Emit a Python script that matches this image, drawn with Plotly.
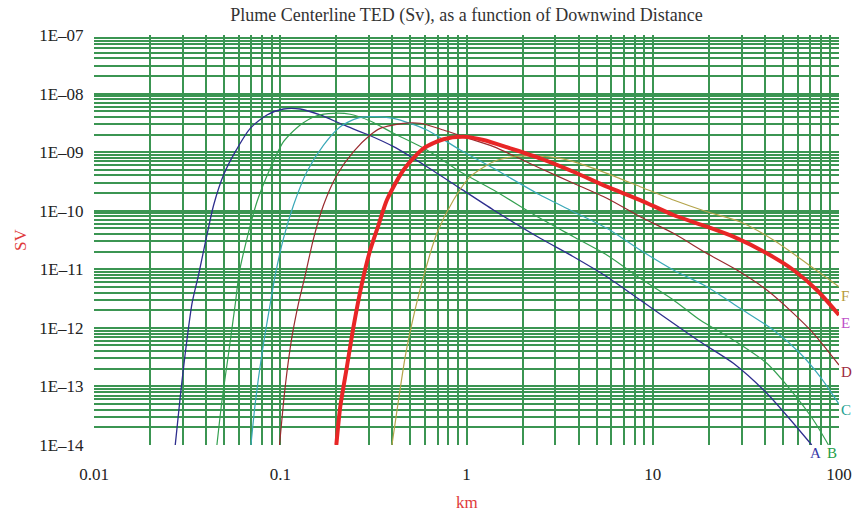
import plotly.graph_objects as go

# ---------------- data ----------------
A_x = [0.0273, 0.02905, 0.0309, 0.0336, 0.0364, 0.0404, 0.0439, 0.0496, 0.0574, 0.069, 0.0848, 0.1041,
       0.128, 0.164, 0.2187, 0.292, 0.4057, 0.613, 0.925, 1.396, 2.487, 3.752, 5.67, 8.56, 17.96, 27.1,
       40.96, 56.9, 71.4]
A_y = [1e-14, 6.67e-14, 3.68e-13, 2.62e-12, 7.98e-12, 3.85e-11, 1.25e-10, 4.07e-10, 1.02e-9, 2.55e-9,
       4.31e-9, 5.45e-9, 5.45e-9, 4.31e-9, 2.91e-9, 2.02e-9, 1.24e-9, 5.64e-10, 2.41e-10, 1.03e-10,
       3.38e-11, 1.64e-11, 7.47e-12, 2.99e-12, 5.80e-13, 2.48e-13, 7.63e-14, 2.35e-14, 1e-14]

B_x = [0.0457, 0.0487, 0.0528, 0.0574, 0.0602, 0.0663, 0.075, 0.0884, 0.1041, 0.128, 0.1574, 0.1932,
       0.2375, 0.3041, 0.4057, 0.613, 0.925, 1.396, 2.487, 3.752, 5.67, 8.56, 12.91, 17.96, 27.1, 40.96,
       56.9, 72.9, 87.8]
B_y = [1e-14, 5.86e-14, 3.68e-13, 2.62e-12, 8.64e-12, 3.38e-11, 1.42e-10, 5.30e-10, 1.51e-9, 2.91e-9,
       4.19e-9, 4.60e-9, 4.43e-9, 3.40e-9, 2.10e-9, 1.09e-9, 4.63e-10, 2.26e-10, 7.42e-11, 3.6e-11,
       1.75e-11, 7.0e-12, 3.0e-12, 1.36e-12, 6.20e-13, 2.48e-13, 7.63e-14, 2.67e-14, 1e-14]

C_x = [0.0696, 0.0734, 0.0798, 0.0884, 0.094, 0.1041, 0.1179, 0.139, 0.1708, 0.21, 0.258, 0.3041,
       0.4057, 0.613, 0.925, 1.396, 2.487, 3.752, 5.67, 8.56, 12.91, 19.52, 29.45, 44.45, 61.8, 79.1, 100]
C_y = [1e-14, 5.15e-14, 3.68e-13, 2.62e-12, 7.98e-12, 3.38e-11, 1.25e-10, 4.63e-10, 1.32e-9, 2.72e-9,
       3.78e-9, 4.03e-9, 3.78e-9, 2.39e-9, 1.09e-9, 5.30e-10, 1.85e-10, 9.62e-11, 5.01e-11, 2.13e-11,
       9.72e-12, 5.04e-12, 2.16e-12, 9.19e-13, 3.68e-13, 1.47e-13, 5.0e-14]

D_x = [0.0991, 0.1063, 0.1156, 0.1253, 0.1362, 0.151, 0.1708, 0.2015, 0.2474, 0.3041, 0.3442, 0.459,
       0.5644, 0.7524, 0.9636, 1.396, 2.11, 2.487, 3.752, 5.67, 8.56, 12.91, 19.52, 28.3, 40.96, 56.9,
       72.9, 100]
D_y = [1e-14, 9.89e-14, 7.06e-13, 2.62e-12, 7.98e-12, 3.38e-11, 1.25e-10, 4.07e-10, 1.02e-9, 1.96e-9,
       2.55e-9, 3.11e-9, 3.11e-9, 2.39e-9, 1.83e-9, 1.24e-9, 6.8e-10, 5.30e-10, 2.94e-10, 1.63e-10,
       7.90e-11, 4.11e-11, 1.87e-11, 9.72e-12, 4.43e-12, 1.77e-12, 8.07e-13, 2.32e-13]

E_x = [0.2, 0.21, 0.228, 0.2474, 0.2746, 0.3041, 0.337, 0.3738, 0.459, 0.5877, 0.7524, 0.9636, 1.234,
       1.716, 2.487, 3.752, 5.67, 8.56, 12.91, 19.52, 27.1, 40.96, 56.9, 76.0, 100]
E_y = [1e-14, 4.50e-14, 2.17e-13, 1.05e-12, 5.76e-12, 2.13e-11, 5.70e-11, 1.52e-10, 4.96e-10, 1.16e-9,
       1.66e-9, 1.83e-9, 1.61e-9, 1.16e-9, 7.85e-10, 4.63e-10, 2.57e-10, 1.52e-10, 8.45e-11, 5.33e-11,
       3.60e-11, 1.87e-11, 9.72e-12, 4.43e-12, 1.66e-12]

F_x = [0.3978, 0.4315, 0.4688, 0.5192, 0.5877, 0.6937, 0.8516, 1.047, 1.396, 1.788, 2.387, 3.184,
       3.752, 5.67, 8.56, 12.91, 19.52, 29.45, 44.45, 67.2, 100]
F_y = [1e-14, 5.86e-14, 3.22e-13, 1.55e-12, 7.47e-12, 4.11e-11, 1.52e-10, 3.81e-10, 6.87e-10, 8.36e-10,
       8.59e-10, 7.85e-10, 6.87e-10, 4.35e-10, 2.57e-10, 1.52e-10, 9.62e-11, 6.49e-11, 3.16e-11,
       1.26e-11, 5.04e-12]

X_TICKS = [0.01, 0.1, 1, 10, 100]
X_LABELS = ["0.01", "0.1", "1", "10", "100"]
Y_TICKS = [1e-14, 1e-13, 1e-12, 1e-11, 1e-10, 1e-9, 1e-8, 1e-7]
Y_LABELS = ["1E\u201314", "1E\u201313", "1E\u201312", "1E\u201311", "1E\u201310",
            "1E\u201309", "1E\u201308", "1E\u201307"]

TITLE = "Plume Centerline TED (Sv), as a function of Downwind Distance"

# ---------------- styling ----------------
FONT = "Liberation Serif"
GRID = "#3b9552"
COLORS = {"A": "#2e2e8e", "B": "#34a050", "C": "#3aa8b8", "D": "#9a2a2e", "E": "#e82626", "F": "#b4a44a"}
WIDTHS = {"A": 1.3, "B": 1.2, "C": 1.2, "D": 1.2, "E": 4.0, "F": 1.2}
LABEL_COLORS = {"A": "#3838a8", "B": "#24a048", "C": "#22a090", "D": "#a02c40", "E": "#c050c8", "F": "#b89a3a"}

# grid positions: every 1..9 x decade (no line on the 0.01 and 1E-14 edges)
x_grid = [m * 10.0 ** k for k in range(-2, 2) for m in range(1, 10)][1:] + [100]
y_grid = [m * 10.0 ** k for k in range(-14, -7) for m in range(1, 10)][1:] + [1e-7]

data = {"A": (A_x, A_y), "B": (B_x, B_y), "C": (C_x, C_y), "D": (D_x, D_y), "E": (E_x, E_y), "F": (F_x, F_y)}

fig = go.Figure()
for name in ["A", "B", "C", "D", "F", "E"]:
    xs, ys = data[name]
    fig.add_trace(go.Scatter(
        x=xs, y=ys, mode="lines", name=name, showlegend=False, hoverinfo="skip",
        line=dict(color=COLORS[name], width=WIDTHS[name], shape="spline", smoothing=0.7),
        xaxis="x", yaxis="y"))

# empty trace so the label-only overlay axes get drawn
fig.add_trace(go.Scatter(x=[], y=[], xaxis="x2", yaxis="y2", showlegend=False, hoverinfo="skip"))

fig.update_layout(
    width=852, height=513,
    margin=dict(l=94, r=13, t=35, b=68, pad=0, autoexpand=False),
    paper_bgcolor="white", plot_bgcolor="white",
    showlegend=False,
    title=dict(text=TITLE, x=0.5, xref="paper", xanchor="center", y=1 - 15 / 513, yanchor="middle",
               font=dict(family=FONT, size=18, color="#333")),
    xaxis=dict(type="log", range=[-2, 2], tickvals=x_grid, showticklabels=False, ticks="",
               showgrid=True, gridcolor=GRID, gridwidth=1.6, zeroline=False, showline=False,
               automargin=False),
    yaxis=dict(type="log", range=[-14, -7], tickvals=y_grid, showticklabels=False, ticks="",
               showgrid=True, gridcolor=GRID, gridwidth=1.6, zeroline=False, showline=False,
               automargin=False),
    xaxis2=dict(type="log", range=[-2, 2], overlaying="x", anchor="y2", side="bottom",
                tickvals=X_TICKS, ticktext=X_LABELS, showgrid=False, zeroline=False, showline=False,
                ticks="outside", ticklen=14, tickcolor="rgba(0,0,0,0)", automargin=False,
                tickfont=dict(family=FONT, size=17, color="#222")),
    yaxis2=dict(type="log", range=[-14, -7], overlaying="y", anchor="x2", side="left",
                tickvals=Y_TICKS, ticktext=Y_LABELS, showgrid=False, zeroline=False, showline=False,
                ticks="outside", ticklen=6, tickcolor="rgba(0,0,0,0)", automargin=False,
                tickfont=dict(family=FONT, size=17, color="#222")),
)

annotations = [
    dict(text="km", xref="paper", yref="paper", x=0.5, y=-57 / 410, xanchor="center", yanchor="middle",
         showarrow=False, font=dict(family=FONT, size=17, color="#e03a3a")),
    dict(text="SV", xref="paper", yref="paper", x=-74 / 745, y=0.5, xanchor="center", yanchor="middle",
         textangle=-90, showarrow=False, font=dict(family=FONT, size=17, color="#e03a3a")),
]
# right-edge curve labels (log10 of the y position)
for name, ylog in [("F", -11.46), ("E", -11.92), ("D", -12.75), ("C", -13.40)]:
    annotations.append(dict(text=name, xref="paper", yref="y", x=1, y=ylog, xanchor="left",
                            yanchor="middle", xshift=0, showarrow=False,
                            font=dict(family=FONT, size=15, color=LABEL_COLORS[name])))
for name, xlog in [("A", 1.872), ("B", 1.963)]:
    annotations.append(dict(text=name, xref="x", yref="paper", x=xlog, y=-8 / 410, xanchor="center",
                            yanchor="middle", showarrow=False,
                            font=dict(family=FONT, size=15, color=LABEL_COLORS[name])))
fig.update_layout(annotations=annotations)

fig.write_html("out.html")
